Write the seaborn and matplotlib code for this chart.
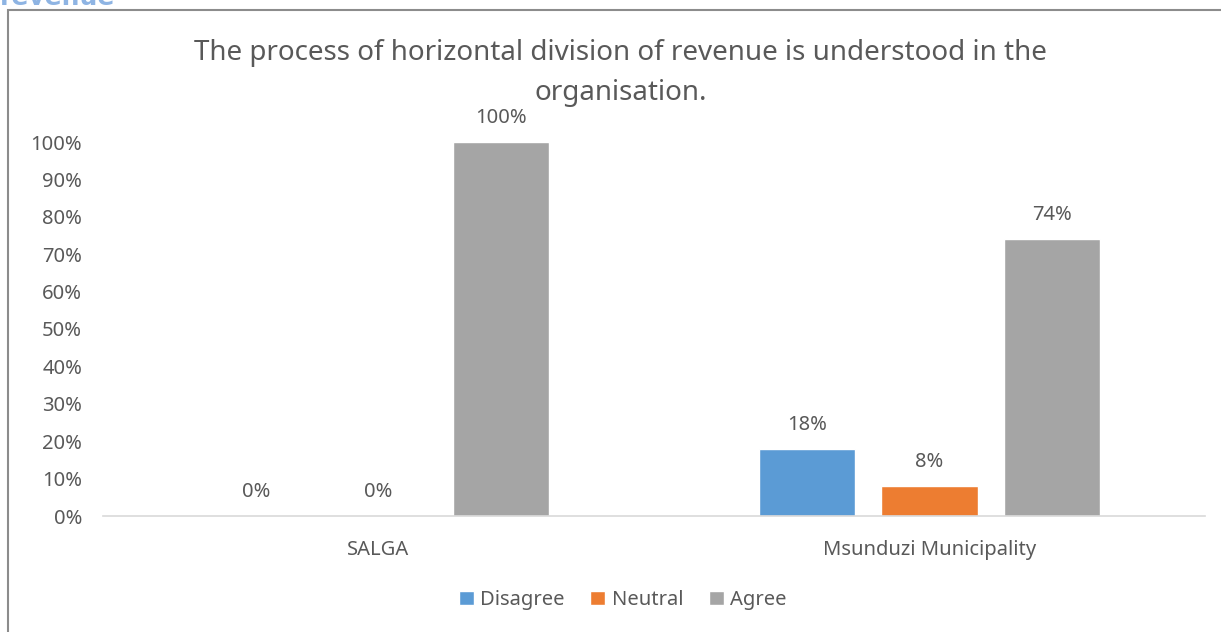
import pandas as pd
from matplotlib import pyplot as plt
from matplotlib.patches import Rectangle
from matplotlib.ticker import PercentFormatter
import seaborn as sns

organisations = ["SALGA", "Msunduzi Municipality"]
responses = ["Disagree", "Neutral", "Agree"]
disagree = [0.00, 0.18]
neutral = [0.00, 0.08]
agree = [1.00, 0.74]
colors = ["#5B9BD5", "#ED7D31", "#A5A5A5"]
title = "The process of horizontal division of revenue is understood in the\norganisation."

rows = []
for resp, vals in zip(responses, [disagree, neutral, agree]):
    for org, v in zip(organisations, vals):
        rows.append({"org": org, "response": resp, "pct": v})
df = pd.DataFrame(rows)

sns.set_style("white")
plt.rcParams['font.family'] = ['Noto Sans', 'DejaVu Sans']
txt = "#595959"

fig = plt.figure(figsize=(12.21, 6.32), dpi=100)
ax = fig.add_axes([103 / 1221, 1 - 516 / 632, 1102 / 1221, 374 / 632])

sns.barplot(data=df, x="org", y="pct", hue="response", order=organisations,
            hue_order=responses, palette=colors, width=0.667, gap=0.21,
            saturation=1, ax=ax, legend=True)

for cont, vals in zip(ax.containers, [disagree, neutral, agree]):
    ax.bar_label(cont, labels=[f"{v:.0%}" for v in vals], padding=10,
                 fontsize=14.5, color=txt)

ax.set_ylim(0, 1.0)
ax.set_xlim(-0.5, 1.5)
ax.set_yticks([i / 10 for i in range(11)])
ax.yaxis.set_major_formatter(PercentFormatter(1.0, decimals=0))
ax.tick_params(axis="y", length=0, pad=15, labelsize=14.5, labelcolor=txt)
ax.tick_params(axis="x", length=0, pad=17, labelsize=14.5, labelcolor=txt)
ax.set_xlabel("")
ax.set_ylabel("")
for s in ["top", "right", "left"]:
    ax.spines[s].set_visible(False)
ax.spines["bottom"].set_color("#D9D9D9")
ax.spines["bottom"].set_linewidth(1.2)

ax.legend(loc="center", bbox_to_anchor=(0.51, 1 - 600 / 632),
          bbox_transform=fig.transFigure, ncol=3, frameon=False,
          fontsize=14.5, handlelength=0.75, handleheight=0.75,
          handletextpad=0.3, columnspacing=1.3, labelcolor=txt)

fig.text(0.508, 1 - 73 / 632, title, ha="center", va="center",
         fontsize=20, color=txt, linespacing=1.6)

# chart frame and cropped heading above it
fig.patches.append(Rectangle((8 / 1221, -0.1), 1.2, 1.1 - 10 / 632,
                             transform=fig.transFigure, fill=False,
                             edgecolor="#8C8C8C", linewidth=1.5))
fig.text(0.0, 1 - 5 / 632, "revenue", ha="left", va="baseline",
         fontsize=18, fontweight="bold", color="#8EB4E3",
         family=["DejaVu Sans"])

fig.savefig("out.png", dpi=100)
